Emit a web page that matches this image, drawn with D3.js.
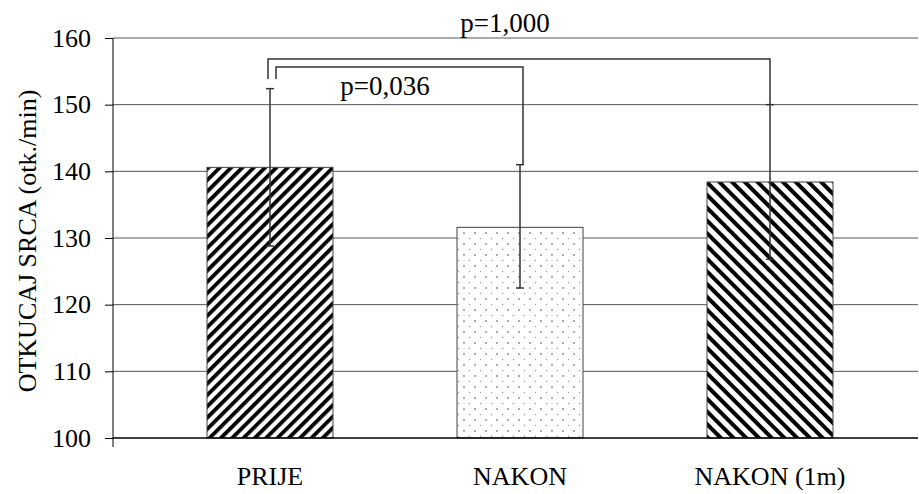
<!DOCTYPE html>
<html>
<head>
<meta charset="utf-8">
<script src="https://cdn.jsdelivr.net/npm/d3@7"></script>
<style>
  body { margin: 0; background: #fff; }
  svg text { font-family: "Liberation Serif", "Times New Roman", serif; fill: #000; }
</style>
</head>
<body>
<svg id="chart" width="919" height="494"></svg>
<script>
// data
var categories = ["PRIJE", "NAKON", "NAKON (1m)"];
var means = [140.6, 131.6, 138.4];
var errUpper = [152.4, 141.0, 150.0];
var errLower = [128.8, 122.5, 126.8];
var yTicks = [100, 110, 120, 130, 140, 150, 160];
var comparisons = [[0, 2], [0, 1]];
var pLabels = ["p=1,000", "p=0,036"];

var svg = d3.select("#chart");
var defs = svg.append("defs");

// hatch patterns
var p1 = defs.append("pattern")
  .attr("id", "hatchUp")
  .attr("patternUnits", "userSpaceOnUse")
  .attr("width", 8).attr("height", 8)
  .attr("patternTransform", "rotate(45)");
p1.append("rect").attr("width", 8).attr("height", 8).attr("fill", "#fff");
p1.append("rect").attr("x", 0).attr("width", 3.8).attr("height", 8).attr("fill", "#000");

var p2 = defs.append("pattern")
  .attr("id", "dots")
  .attr("patternUnits", "userSpaceOnUse")
  .attr("width", 11).attr("height", 11);
p2.append("rect").attr("width", 11).attr("height", 11).attr("fill", "#fff");
p2.append("circle").attr("cx", 2).attr("cy", 2).attr("r", 0.9).attr("fill", "#888");
p2.append("circle").attr("cx", 7.5).attr("cy", 7.5).attr("r", 0.7).attr("fill", "#999");

var p3 = defs.append("pattern")
  .attr("id", "hatchDown")
  .attr("patternUnits", "userSpaceOnUse")
  .attr("width", 9).attr("height", 9)
  .attr("patternTransform", "rotate(-45)");
p3.append("rect").attr("width", 9).attr("height", 9).attr("fill", "#fff");
p3.append("rect").attr("x", 0).attr("width", 4).attr("height", 9).attr("fill", "#000");

var fills = ["url(#hatchUp)", "url(#dots)", "url(#hatchDown)"];

var axisX = 113, right = 918;

var y = d3.scaleLinear()
  .domain([100, 160])
  .range([438, 38]);

var x = d3.scaleBand()
  .domain(categories)
  .range([145, 895]);

var barW = x.bandwidth() * 0.504;
var cx = d => x(d) + x.bandwidth() / 2;

// gridlines
svg.append("g")
  .selectAll("line")
  .data(yTicks.filter(t => t > 100))
  .join("line")
    .attr("x1", axisX).attr("x2", right)
    .attr("y1", d => y(d)).attr("y2", d => y(d))
    .attr("stroke", "#555")
    .attr("stroke-width", 1);

// bars
svg.append("g")
  .selectAll("rect")
  .data(categories)
  .join("rect")
    .attr("x", d => cx(d) - barW / 2)
    .attr("width", barW)
    .attr("y", (d, i) => y(means[i]))
    .attr("height", (d, i) => y(100) - y(means[i]))
    .attr("fill", (d, i) => fills[i])
    .attr("stroke", "#444")
    .attr("stroke-width", 1);

// error bars
var eb = svg.append("g")
  .attr("stroke", "#333")
  .attr("stroke-width", 1.5);
categories.forEach(function(c, i) {
  var xc = cx(c);
  eb.append("line")
    .attr("x1", xc).attr("x2", xc)
    .attr("y1", y(errUpper[i])).attr("y2", y(errLower[i]));
  [errUpper[i], errLower[i]].forEach(function(v) {
    eb.append("line")
      .attr("x1", xc - 4).attr("x2", xc + 4)
      .attr("y1", y(v)).attr("y2", y(v));
  });
});

// y axis
var yAxis = d3.axisLeft(y)
  .tickValues(yTicks)
  .tickSize(8)
  .tickPadding(14);

var gy = svg.append("g")
  .attr("transform", "translate(" + axisX + ",0)")
  .call(yAxis)
  .attr("font-family", "Liberation Serif, serif")
  .attr("font-size", 26);
gy.select(".domain").remove();
gy.selectAll(".tick line").attr("stroke", "#000");
gy.selectAll(".tick text").attr("fill", "#000");

svg.append("line")
  .attr("x1", axisX).attr("x2", axisX)
  .attr("y1", y(160)).attr("y2", y(100) + 9)
  .attr("stroke", "#000").attr("stroke-width", 1);

// baseline
svg.append("line")
  .attr("x1", axisX).attr("x2", right)
  .attr("y1", y(100)).attr("y2", y(100))
  .attr("stroke", "#000").attr("stroke-width", 1.5);

// category labels
svg.append("g")
  .selectAll("text")
  .data(categories)
  .join("text")
    .attr("x", d => cx(d))
    .attr("y", 485)
    .attr("text-anchor", "middle")
    .style("font-size", "26px")
    .text(d => d);

// y title
svg.append("text")
  .attr("transform", "translate(36," + ((y(100) + y(160)) / 2 + 3) + ") rotate(-90)")
  .attr("text-anchor", "middle")
  .style("font-size", "26px")
  .text("OTKUCAJ SRCA (otk./min)");

// significance brackets
var levels = [156.85, 155.65];
var leftOff = [-2, 6], rightOff = [0, 3];
var labelPos = [[505, 32], [385, 95]];
var gb = svg.append("g")
  .attr("fill", "none")
  .attr("stroke", "#333")
  .attr("stroke-width", 1.5);
comparisons.forEach(function(pair, k) {
  var a = categories[pair[0]], b = categories[pair[1]];
  var x1 = cx(a) + leftOff[k], x2 = cx(b) + rightOff[k];
  var yl = y(levels[k]);
  gb.append("path")
    .attr("d", d3.line()([
      [x1, y(153.85)], [x1, yl], [x2, yl], [x2, y(errUpper[pair[1]])]
    ]));
  svg.append("text")
    .attr("x", labelPos[k][0])
    .attr("y", labelPos[k][1])
    .attr("text-anchor", "middle")
    .style("font-size", "27px")
    .text(pLabels[k]);
});
</script>
</body>
</html>
